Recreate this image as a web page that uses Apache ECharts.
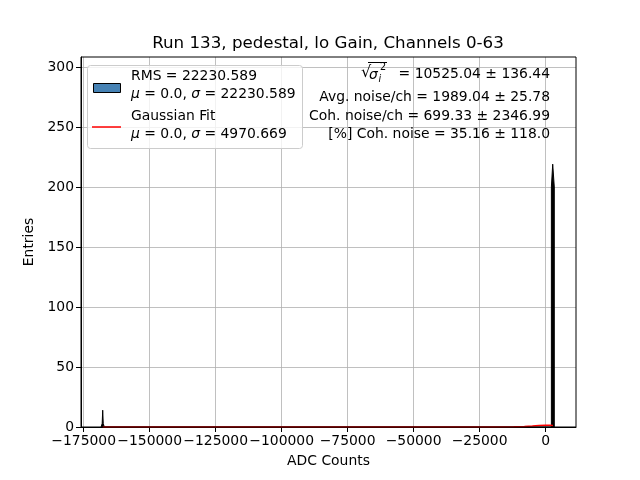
<!DOCTYPE html>
<html><head><meta charset="utf-8">
<script src="https://cdn.jsdelivr.net/npm/echarts@6/dist/echarts.min.js"></script>
<style>html,body{margin:0;padding:0;background:#fff}#c{width:640px;height:480px}</style>
</head><body><div id="c"></div>
<script>
// Histogram outline points (ADC counts, entries)
const histX = [-168400, -168000, -167800, -167600, -167200, 2200, 2200, 2700, 3300, 3300];
const histY = [0, 3, 14, 3, 0, 0, 200, 219, 200, 0];
// Gaussian fit curve
const fitX = [-167800, -60000, -20000, -12000, -8000, -5000, -2500, 0, 1500, 2800];
const fitY = [0, 0, 0.02, 0.15, 0.45, 0.9, 1.3, 1.5, 1.45, 1.3];
const xTicks = [-175000, -150000, -125000, -100000, -75000, -50000, -25000, 0];
const yTicks = [0, 50, 100, 150, 200, 250, 300];
const titleText = 'Run 133, pedestal, lo Gain, Channels 0-63';
const statLines = ['Avg. noise/ch = 1989.04 \u00b1 25.78', 'Coh. noise/ch = 699.33 \u00b1 2346.99', '[%] Coh. noise = 35.16 \u00b1 118.0'];

const F = 'DejaVu Sans';
const FS = 13.9;
const FONT = FS + 'px "DejaVu Sans"';
const fmt = v => String(v).replace('-', '\u2212');
const chart = echarts.init(document.getElementById('c'));
const ax = {
  axisLine: {show: true, onZero: false, lineStyle: {color: '#000', width: 1}},
  axisTick: {show: true, length: 5, lineStyle: {color: '#000'}},
  axisLabel: {color: '#000', fontFamily: F, fontSize: FS, formatter: fmt},
  splitLine: {show: true, lineStyle: {color: '#b0b0b0', width: 0.8}},
  nameTextStyle: {color: '#000', fontFamily: F, fontSize: FS}
};
chart.setOption({
  animation: false,
  grid: {left: 81, right: 64, top: 57, bottom: 53, show: false},
  xAxis: Object.assign({}, ax, {type: 'value', min: -176025, max: 11525,
    name: 'ADC Counts', nameLocation: 'middle', nameGap: 27,
    axisTick: Object.assign({}, ax.axisTick, {customValues: xTicks}),
    axisLabel: Object.assign({}, ax.axisLabel, {customValues: xTicks, margin: 7})}),
  yAxis: Object.assign({}, ax, {type: 'value', min: 0, max: 308.3,
    name: 'Entries', nameLocation: 'middle', nameGap: 44,
    axisTick: Object.assign({}, ax.axisTick, {customValues: yTicks}),
    axisLabel: Object.assign({}, ax.axisLabel, {customValues: yTicks, margin: 7})}),
  series: [
    {type: 'line', data: histX.map((x, i) => [x, histY[i]]), symbol: 'none',
      lineStyle: {color: '#000', width: 1}, areaStyle: {color: '#000', opacity: 1}, z: 3},
    {type: 'line', data: fitX.map((x, i) => [x, fitY[i]]), symbol: 'none', smooth: false,
      lineStyle: {color: '#ff0000', width: 1.5}, z: 4}
  ],
  graphic: [
    {type: 'text', x: 328, y: 44, style: {text: titleText, font: '16.7px "DejaVu Sans"', fill: '#000', align: 'center', verticalAlign: 'middle'}, z: 61},
    {type: 'rect', shape: {x: 81, y: 57, width: 495, height: 370}, style: {fill: 'none', stroke: '#000', lineWidth: 1}, z: 50},
    // legend
    {type: 'rect', shape: {x: 87.5, y: 65.5, width: 215, height: 83, r: 3}, style: {fill: 'rgba(255,255,255,0.8)', stroke: '#cccccc', lineWidth: 1}, z: 60},
    {type: 'rect', shape: {x: 93.5, y: 83.5, width: 27, height: 9}, style: {fill: '#4682b4', stroke: '#000', lineWidth: 1}, z: 61},
    {type: 'line', shape: {x1: 92, y1: 127, x2: 121, y2: 127}, style: {stroke: '#ff0000', lineWidth: 1.5}, z: 61},
    {type: 'text', x: 131, y: 76, style: {text: 'RMS = 22230.589', font: FONT, fill: '#000', verticalAlign: 'middle'}, z: 61},
    {type: 'text', x: 131, y: 94, style: {text: '{i|\u03bc} = 0.0, {i|\u03c3} = 22230.589', font: FONT, fill: '#000', verticalAlign: 'middle',
      rich: {i: {fontStyle: 'italic', fontFamily: F, fontSize: FS}}}, z: 61},
    {type: 'text', x: 131, y: 116, style: {text: 'Gaussian Fit', font: FONT, fill: '#000', verticalAlign: 'middle'}, z: 61},
    {type: 'text', x: 131, y: 134, style: {text: '{i|\u03bc} = 0.0, {i|\u03c3} = 4970.669', font: FONT, fill: '#000', verticalAlign: 'middle',
      rich: {i: {fontStyle: 'italic', fontFamily: F, fontSize: FS}}}, z: 61},
    // stats text
    {type: 'text', x: 550, y: 74, style: {text: '= 10525.04 \u00b1 136.44', font: FONT, fill: '#000', align: 'right', verticalAlign: 'middle'}, z: 61},
    {type: 'text', x: 361, y: 73, style: {text: '\u221a', font: '16px "DejaVu Sans"', fill: '#000', verticalAlign: 'middle'}, z: 61},
    {type: 'line', shape: {x1: 368, y1: 62.5, x2: 387, y2: 62.5}, style: {stroke: '#000', lineWidth: 1}, z: 61},
    {type: 'text', x: 369, y: 75, style: {text: '\u03c3', font: 'italic 13.9px "DejaVu Sans"', fill: '#000', verticalAlign: 'middle'}, z: 61},
    {type: 'text', x: 380, y: 67, style: {text: '2', font: '9.7px "DejaVu Sans"', fill: '#000', verticalAlign: 'middle'}, z: 61},
    {type: 'text', x: 378.5, y: 79, style: {text: 'i', font: 'italic 9.7px "DejaVu Sans"', fill: '#000', verticalAlign: 'middle'}, z: 61},
    {type: 'text', x: 550, y: 97, style: {text: statLines[0], font: FONT, fill: '#000', align: 'right', verticalAlign: 'middle'}, z: 61},
    {type: 'text', x: 550, y: 116, style: {text: statLines[1], font: FONT, fill: '#000', align: 'right', verticalAlign: 'middle'}, z: 61},
    {type: 'text', x: 550, y: 134, style: {text: statLines[2], font: FONT, fill: '#000', align: 'right', verticalAlign: 'middle'}, z: 61}
  ]
});
</script></body></html>
